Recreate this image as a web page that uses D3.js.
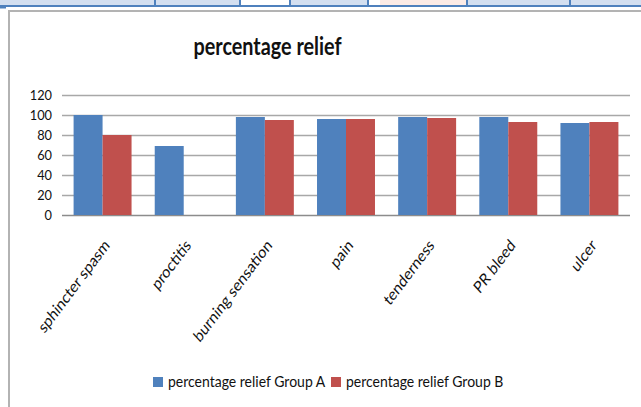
<!DOCTYPE html>
<html><head><meta charset="utf-8">
<script src="https://cdn.jsdelivr.net/npm/d3@7"></script>
<style>
html,body{margin:0;padding:0;background:#fff;}
svg{display:block;}
text{font-family:Lato,"Open Sans",sans-serif;fill:#111;}
</style></head>
<body>
<script>
const categories = ["sphincter spasm","proctitis","burning sensation","pain","tenderness","PR bleed","ulcer"];
const groupA = [100, 69, 98, 96, 98, 98, 92];
const groupB = [80, null, 95, 96, 97, 93, 93];
const seriesNames = ["percentage relief Group A","percentage relief Group B"];
const yTicks = [0,20,40,60,80,100,120];
const title = "percentage relief";

const W = 641, H = 407;
const colors = ["#4F81BD","#C0504D"];
const S = 1.12; // vertical text stretch of the source image

const svg = d3.select("body").append("svg").attr("width",W).attr("height",H);

// top page strip (document table edge)
svg.append("rect").attr("x",0).attr("y",0).attr("width",W).attr("height",5).attr("fill","#d3dff0");
[[240,290],[368,467]].forEach(([a,b])=>{
  svg.append("rect").attr("x",a).attr("y",0).attr("width",b-a).attr("height",5).attr("fill","#fff");
});
svg.append("rect").attr("x",380).attr("y",0).attr("width",87).attr("height",5).attr("fill","#fcebe6");
svg.append("rect").attr("x",0).attr("y",5).attr("width",W).attr("height",2).attr("fill","#4f81bd");
[155,240,290,368,467,570].forEach(x=>{
  svg.append("rect").attr("x",x-1).attr("y",0).attr("width",2).attr("height",6).attr("fill","#4f81bd");
});
svg.append("rect").attr("x",0).attr("y",7).attr("width",6).attr("height",1.5).attr("fill","#4f81bd");

// chart frame
svg.append("rect").attr("x",8).attr("y",10).attr("width",W).attr("height",2).attr("fill","#b3b3b3");
svg.append("rect").attr("x",8).attr("y",10).attr("width",2).attr("height",H).attr("fill","#b3b3b3");

// scales
const x = d3.scaleBand().domain(categories).range([62,630]).paddingInner(0).paddingOuter(0);
const xs = d3.scaleBand().domain([0,1]).range([0,x.bandwidth()]).paddingInner(0).paddingOuter(0.4);
const y = d3.scaleLinear().domain([0,120]).range([215,95]);

// gridlines
svg.append("g").selectAll("line").data(yTicks).join("line")
  .attr("x1",62).attr("x2",630)
  .attr("y1",d=>y(d)+0.5).attr("y2",d=>y(d)+0.5)
  .attr("stroke",d=>d===0?"#8c8c8c":"#a8a8a8").attr("stroke-width",1.3);

// y tick labels
svg.append("g").selectAll("text").data(yTicks).join("text")
  .attr("text-anchor","end")
  .attr("transform",d=>`translate(52,${y(d)+5}) scale(1,${S})`)
  .attr("font-size",12.8)
  .text(d=>d);

// bars
const rows = categories.map((c,i)=>({c, v:[groupA[i],groupB[i]]}));
const g = svg.append("g");
rows.forEach(r=>{
  r.v.forEach((v,k)=>{
    if(v==null) return;
    g.append("rect")
      .attr("x",x(r.c)+xs(k)).attr("width",xs.bandwidth())
      .attr("y",y(v)).attr("height",y(0)-y(v))
      .attr("fill",colors[k]);
  });
});

// x labels
svg.append("g").selectAll("text").data(categories).join("text")
  .attr("text-anchor","end")
  .attr("transform",d=>`translate(${x(d)+x.bandwidth()/2+8},246) scale(1,1.2) rotate(-48)`)
  .attr("font-size",14)
  .text(d=>d);

// title
svg.append("text").attr("text-anchor","middle")
  .attr("transform",`translate(267.5,55) scale(1,1.25)`)
  .attr("font-size",19.8).attr("font-weight","bold")
  .text(title);

// legend
const legX = [153,331];
seriesNames.forEach((n,k)=>{
  svg.append("rect").attr("x",legX[k]).attr("y",377).attr("width",10).attr("height",10).attr("fill",colors[k]);
  svg.append("text").attr("transform",`translate(${legX[k]+15},386.5) scale(1,${S})`)
    .attr("font-size",14).text(n);
});
</script>
</body></html>
